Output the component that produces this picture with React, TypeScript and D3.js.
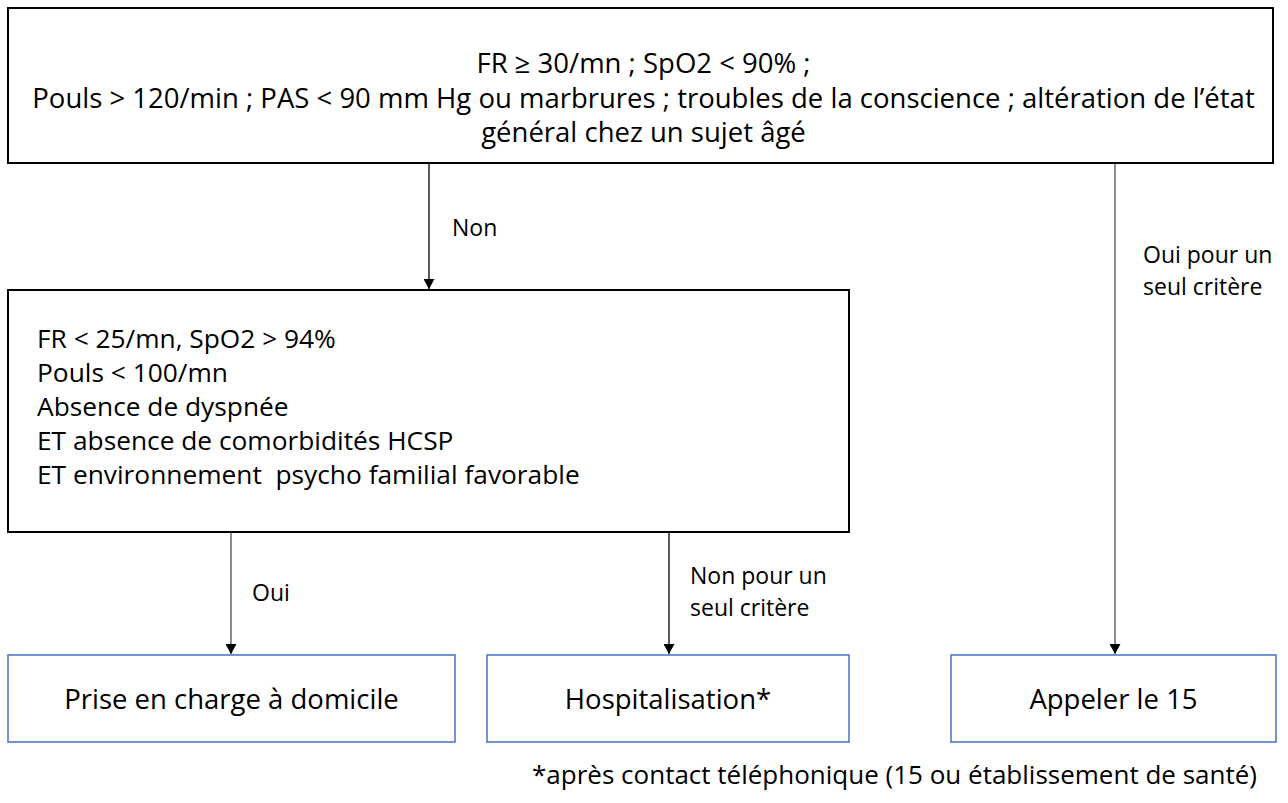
import { useEffect, useRef } from "react";
import * as d3 from "d3";

// texts of the flowchart
const topCriteria = [
  "FR ≥ 30/mn ; SpO2 < 90% ;",
  "Pouls > 120/min ; PAS < 90 mm Hg ou marbrures ; troubles de la conscience ; altération de l’état",
  "général chez un sujet âgé",
];
const homeCriteria = [
  "FR < 25/mn, SpO2 > 94%",
  "Pouls < 100/mn",
  "Absence de dyspnée",
  "ET absence de comorbidités HCSP",
  "ET environnement  psycho familial favorable",
];
const outcomes = ["Prise en charge à domicile", "Hospitalisation*", "Appeler le 15"];
const branchNon = ["Non"];
const branchOui = ["Oui"];
const branchNonSeul = ["Non pour un", "seul critère"];
const branchOuiSeul = ["Oui pour un", "seul critère"];
const footnote = "*après contact téléphonique (15 ou établissement de santé)";

const Flowchart = () => {
  const ref = useRef(null);

  useEffect(() => {
    if (!ref.current) return;
    const svg = d3.select(ref.current);
    svg.selectAll("*").remove();

    const width = 1288;
    const height = 803;
    const font = "'Open Sans', 'Noto Sans', sans-serif";
    const boxFont = 27.5;
    const labelFont = 23;
    const blue = "#4472C4";
    const lineColor = "#505050";

    svg.attr("width", width).attr("height", height).attr("viewBox", [0, 0, width, height]);

    svg
      .append("defs")
      .append("marker")
      .attr("id", "arrow")
      .attr("markerUnits", "userSpaceOnUse")
      .attr("markerWidth", 11)
      .attr("markerHeight", 11)
      .attr("refX", 10)
      .attr("refY", 5.5)
      .attr("orient", "auto")
      .append("path")
      .attr("d", "M0,0 L10,5.5 L0,11 Z")
      .attr("fill", "#000");

    // boxes
    const top = { x0: 8, x1: 1273, y0: 8, y1: 163 };
    const mid = { x0: 8, x1: 849, y0: 290, y1: 532 };
    const bottom = [
      { x0: 8, x1: 455 },
      { x0: 487, x1: 849 },
      { x0: 951, x1: 1276 },
    ];
    const bY0 = 655;
    const bY1 = 742;

    const rect = (b: any, y0: number, y1: number, stroke: string, sw: number) =>
      svg
        .append("rect")
        .attr("x", b.x0)
        .attr("y", y0)
        .attr("width", b.x1 - b.x0)
        .attr("height", y1 - y0)
        .attr("fill", "#fff")
        .attr("stroke", stroke)
        .attr("stroke-width", sw);

    rect(top, top.y0, top.y1, "#000", 2);
    rect(mid, mid.y0, mid.y1, "#000", 2);
    bottom.forEach((b) => rect(b, bY0, bY1, blue, 1.5));

    const lineY = (first: number, step: number) => (i: number) => first + i * step;

    // top box text, centered
    const yTop = lineY(73, 34.5);
    svg
      .append("g")
      .selectAll("text")
      .data(topCriteria)
      .join("text")
      .attr("x", (top.x0 + top.x1) / 2 + 3)
      .attr("y", (_, i) => yTop(i))
      .attr("text-anchor", "middle")
      .attr("font-family", font)
      .attr("font-size", boxFont)
      .attr("fill", "#000")
      .text((d) => d);

    // middle box text, left aligned
    const yMid = lineY(348, 34);
    svg
      .append("g")
      .selectAll("text")
      .data(homeCriteria)
      .join("text")
      .attr("x", 37)
      .attr("y", (_, i) => yMid(i))
      .attr("font-family", font)
      .attr("font-size", 26.3)
      .attr("fill", "#000")
      .style("white-space", "pre")
      .text((d) => d);

    // outcome boxes text
    svg
      .append("g")
      .selectAll("text")
      .data(outcomes)
      .join("text")
      .attr("x", (_, i) => (bottom[i].x0 + bottom[i].x1) / 2)
      .attr("y", 709)
      .attr("text-anchor", "middle")
      .attr("font-family", font)
      .attr("font-size", boxFont)
      .attr("fill", "#000")
      .text((d) => d);

    // arrows
    const arrows = [
      { x: 429, y0: top.y1, y1: mid.y0, color: "#000" },
      { x: 231, y0: mid.y1, y1: bY0, color: lineColor },
      { x: 669, y0: mid.y1, y1: bY0, color: "#000" },
      { x: 1115, y0: top.y1, y1: bY0, color: lineColor },
    ];
    svg
      .append("g")
      .selectAll("line")
      .data(arrows)
      .join("line")
      .attr("x1", (d) => d.x)
      .attr("x2", (d) => d.x)
      .attr("y1", (d) => d.y0 + 1)
      .attr("y2", (d) => d.y1 - 1)
      .attr("stroke", (d) => d.color)
      .attr("stroke-width", 1.3)
      .attr("marker-end", "url(#arrow)");

    // branch labels
    const label = (lines: string[], x: number, y: number) =>
      svg
        .append("g")
        .selectAll("text")
        .data(lines)
        .join("text")
        .attr("x", x)
        .attr("y", (_, i) => y + i * 32)
        .attr("font-family", font)
        .attr("font-size", labelFont)
        .attr("fill", "#000")
        .text((d) => d);

    label(branchNon, 452, 236);
    label(branchOui, 252, 601);
    label(branchNonSeul, 690, 584);
    label(branchOuiSeul, 1143, 263);

    svg
      .append("text")
      .attr("x", 1257)
      .attr("y", 784)
      .attr("text-anchor", "end")
      .attr("font-family", font)
      .attr("font-size", 26)
      .attr("fill", "#000")
      .text(footnote);
  }, []);

  return (
    <svg
      ref={ref}
      style={{ position: "absolute", left: 0, top: 0, background: "#fff" }}
    ></svg>
  );
};

export default function App() {
  return <Flowchart />;
}
